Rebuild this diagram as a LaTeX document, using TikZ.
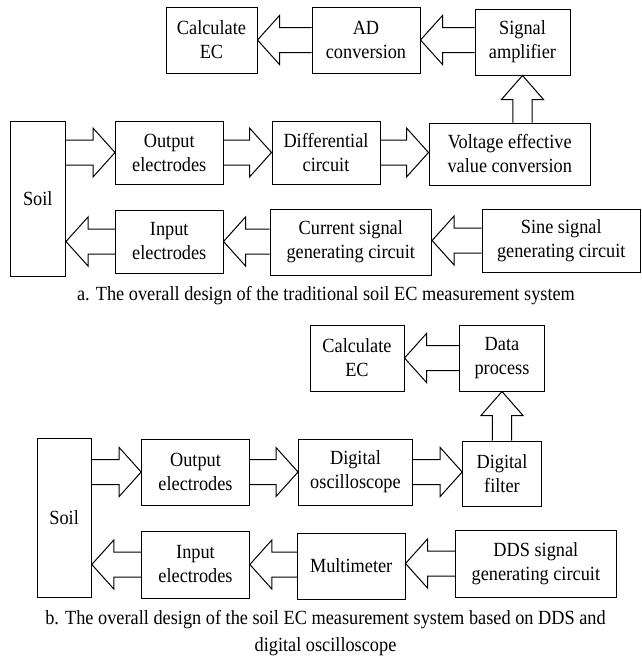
\documentclass[tikz,border=0pt]{standalone}
\usepackage{fontspec}
\setmainfont{Liberation Serif}[FakeStretch=0.91]
\usetikzlibrary{calc}
\tikzset{
  blk/.style={draw, line width=1pt, inner sep=0pt, align=center,
    font=\fontsize{20.1}{24}\selectfont},
  fatline/.style={draw, line width=1pt, line join=miter},
  captxt/.style={align=center, font=\fontsize{20.1}{27}\selectfont}
}
\newcommand\harr[2]{\draw[fatline] let \p1=#1, \p2=#2, \n1={sign(\x2-\x1)} in
  ({\x1},{\y1+12.5pt}) -- ({\x2-\n1*22pt},{\y1+12.5pt}) -- ({\x2-\n1*22pt},{\y1+24.5pt})
  -- ({\x2},{\y1}) -- ({\x2-\n1*22pt},{\y1-24.5pt}) -- ({\x2-\n1*22pt},{\y1-12.5pt}) -- ({\x1},{\y1-12.5pt});}
\newcommand\varr[2]{\draw[fatline] let \p1=#1, \p2=#2, \n1={sign(\y2-\y1)} in
  ({\x2+9.6pt},{\y1}) -- ({\x2+9.6pt},{\y2-\n1*24pt}) -- ({\x2+21pt},{\y2-\n1*24pt})
  -- ({\x2},{\y2}) -- ({\x2-21pt},{\y2-\n1*24pt}) -- ({\x2-9.6pt},{\y2-\n1*24pt}) -- ({\x2-9.6pt},{\y1});}
\begin{document}
\begin{tikzpicture}[x=1pt,y=-1pt]
\useasboundingbox (0,0) rectangle (642,657);
% ---------- part a ----------
\node[blk, minimum width=91pt, minimum height=66pt] (calcA) at (211.5,40) {Calculate\\EC};
\node[blk, minimum width=108pt, minimum height=66pt] (adA) at (366,40) {AD\\conversion};
\node[blk, minimum width=95pt, minimum height=66pt] (ampA) at (522.5,42) {Signal\\amplifier};
\node[blk, minimum width=55.5pt, minimum height=155pt] (soilA) at (37.75,198.5) {Soil};
\node[blk, minimum width=107.5pt, minimum height=63pt] (outA) at (169.25,152.5) {Output\\electrodes};
\node[blk, minimum width=108pt, minimum height=63pt] (diffA) at (326,152.5) {Differential\\circuit};
\node[blk, minimum width=161.5pt, minimum height=62pt] (voltA) at (509.75,154) {Voltage effective\\value conversion};
\node[blk, minimum width=107.5pt, minimum height=63pt] (inA) at (169.25,241.5) {Input\\electrodes};
\node[blk, minimum width=161.6pt, minimum height=66pt] (curA) at (350.8,242) {Current signal\\generating circuit};
\node[blk, minimum width=158.5pt, minimum height=63pt] (sineA) at (561.25,240.5) {Sine signal\\generating circuit};
\node[captxt] (capA) at (326,296) {a. The overall design of the traditional soil EC measurement system};
\harr{(adA.west)}{(calcA.east)}
\harr{(ampA.west |- adA.west)}{(adA.east)}
\varr{(ampA.south |- voltA.north)}{(ampA.south)}
\harr{(soilA.east |- outA.west)}{(outA.west)}
\harr{(outA.east)}{(diffA.west)}
\harr{(diffA.east)}{(voltA.west |- diffA.east)}
\harr{(inA.west)}{(soilA.east |- inA.west)}
\harr{(curA.west |- inA.east)}{(inA.east)}
\harr{(sineA.west)}{(curA.east |- sineA.west)}
% ---------- part b ----------
\node[blk, minimum width=94pt, minimum height=66pt] (calcB) at (357,358) {Calculate\\EC};
\node[blk, minimum width=85pt, minimum height=66pt] (dataB) at (502,358) {Data\\process};
\node[blk, minimum width=54.3pt, minimum height=159pt] (soilB) at (64.15,517.5) {Soil};
\node[blk, minimum width=107.7pt, minimum height=66pt] (outB) at (195.5,472) {Output\\electrodes};
\node[blk, minimum width=113.9pt, minimum height=66pt] (oscB) at (355.45,472) {Digital\\oscilloscope};
\node[blk, minimum width=78.7pt, minimum height=65pt] (filtB) at (502,473.5) {Digital\\filter};
\node[blk, minimum width=107.7pt, minimum height=67pt] (inB) at (195.5,564.5) {Input\\electrodes};
\node[blk, minimum width=107.7pt, minimum height=66pt] (multB) at (351.15,566) {Multimeter};
\node[blk, minimum width=160.9pt, minimum height=67pt] (ddsB) at (535.85,563.5) {DDS signal\\generating circuit};
\node[captxt] (capB) at (325.5,633.5) {b. The overall design of the soil EC measurement system based on DDS and\\digital oscilloscope};
\harr{(dataB.west)}{(calcB.east)}
\varr{(dataB.south |- filtB.north)}{(dataB.south)}
\harr{(soilB.east |- outB.west)}{(outB.west)}
\harr{(outB.east)}{(oscB.west)}
\harr{(oscB.east)}{(filtB.west |- oscB.east)}
\harr{(inB.west)}{(soilB.east |- inB.west)}
\harr{(multB.west |- inB.east)}{(inB.east)}
\harr{(ddsB.west)}{(multB.east |- ddsB.west)}
\end{tikzpicture}
\end{document}
